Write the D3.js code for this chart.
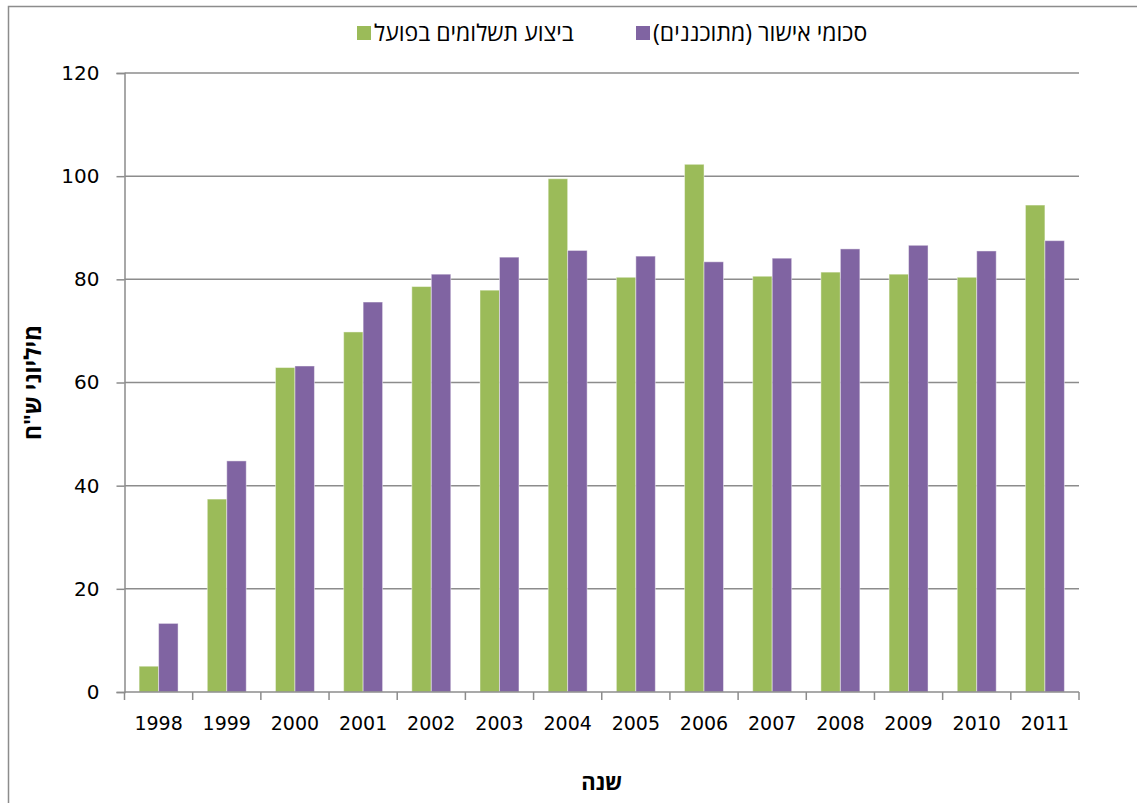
<!DOCTYPE html>
<html lang="he">
<head>
<meta charset="utf-8">
<script src="https://cdn.jsdelivr.net/npm/d3@7"></script>
<style>
  html, body { margin: 0; padding: 0; background: #fff; }
  svg { display: block; }
  text { font-family: "DejaVu Sans", "Liberation Sans", Arial, sans-serif; fill: #000; }
  .heb { font-family: "Open Sans", "DejaVu Sans", "Liberation Sans", sans-serif; }
</style>
</head>
<body>
<svg id="chart" width="1137" height="803"></svg>
<script>
// Years on the category axis
const years = ["1998","1999","2000","2001","2002","2003","2004","2005","2006","2007","2008","2009","2010","2011"];
// Actual payments (millions NIS)
const actualPayments = [5.0, 37.4, 62.9, 69.8, 78.6, 77.9, 99.5, 80.4, 102.3, 80.6, 81.4, 81.0, 80.4, 94.4];
// Approved (planned) amounts (millions NIS)
const plannedApprovals = [13.3, 44.8, 63.2, 75.6, 81.0, 84.3, 85.6, 84.5, 83.4, 84.1, 85.9, 86.6, 85.5, 87.5];
// Value-axis ticks
const yTicks = [0, 20, 40, 60, 80, 100, 120];
// Series names
const seriesNames = ["ביצוע תשלומים בפועל", "סכומי אישור (מתוכננים)"];
const seriesColors = ["#9BBB59", "#8064A2"];

const svg = d3.select("#chart");
const W = 1137, H = 803;
const plot = { left: 124.5, right: 1079, top: 73, bottom: 692 };

// Outer chart frame
svg.append("rect")
  .attr("x", 8.5).attr("y", 6.5)
  .attr("width", W + 20).attr("height", H + 20)
  .attr("fill", "none").attr("stroke", "#8c8c8c").attr("stroke-width", 1.5);

const x0 = d3.scaleBand().domain(years).range([plot.left, plot.right]).paddingInner(0).paddingOuter(0);
const x1 = d3.scaleBand().domain([0, 1]).range([0, x0.bandwidth()]).paddingInner(0).paddingOuter(0.75);
const y = d3.scaleLinear().domain([0, 120]).range([plot.bottom, plot.top]);

// Horizontal gridlines
svg.append("g")
  .selectAll("line")
  .data(yTicks.filter(t => t > 0))
  .join("line")
  .attr("x1", plot.left).attr("x2", plot.right)
  .attr("y1", d => y(d)).attr("y2", d => y(d))
  .attr("stroke", "#8c8c8c").attr("stroke-width", 1.5);

// Bars
const rows = years.map((yr, i) => ({ yr, vals: [actualPayments[i], plannedApprovals[i]] }));
const groups = svg.append("g").selectAll("g")
  .data(rows).join("g")
  .attr("transform", d => `translate(${x0(d.yr)},0)`);
groups.selectAll("rect")
  .data(d => d.vals.map((v, k) => ({ v, k })))
  .join("rect")
  .attr("x", d => x1(d.k))
  .attr("width", x1.bandwidth())
  .attr("y", d => y(d.v))
  .attr("height", d => y(0) - y(d.v))
  .attr("fill", d => seriesColors[d.k])
  .attr("stroke", "#ffffff").attr("stroke-opacity", 0.45).attr("stroke-width", 1);

// Y axis
const yAxis = d3.axisLeft(y).tickValues(yTicks).tickSize(8).tickPadding(17).tickFormat(d3.format("d"));
const gy = svg.append("g").attr("transform", `translate(${plot.left},0)`).call(yAxis);
gy.select(".domain").attr("stroke", "#8c8c8c").attr("stroke-width", 1.5);
gy.selectAll(".tick line").attr("stroke", "#8c8c8c").attr("stroke-width", 1.5);
gy.selectAll(".tick text").attr("font-size", 20).attr("font-family", "DejaVu Sans, sans-serif");

// X axis with ticks at category boundaries
const gx = svg.append("g").attr("transform", `translate(0,${plot.bottom})`);
gx.append("line").attr("x1", plot.left).attr("x2", plot.right).attr("y1", 0).attr("y2", 0)
  .attr("stroke", "#8c8c8c").attr("stroke-width", 1.5);
const boundaries = years.map(yr => x0(yr)).concat([plot.right]);
gx.selectAll("line.tk").data(boundaries).join("line").attr("class", "tk")
  .attr("x1", d => d).attr("x2", d => d).attr("y1", 0).attr("y2", 8)
  .attr("stroke", "#8c8c8c").attr("stroke-width", 1.5);
gx.selectAll("text").data(years).join("text")
  .attr("x", d => x0(d) + x0.bandwidth() / 2)
  .attr("y", 38)
  .attr("text-anchor", "middle")
  .attr("font-size", 19)
  .text(d => d);

// Axis titles
svg.append("text").attr("class", "heb")
  .attr("transform", `translate(41,${(plot.top + plot.bottom) / 2}) rotate(-90)`)
  .attr("text-anchor", "middle").attr("font-size", 23).attr("font-weight", "bold")
  .attr("direction", "rtl")
  .text("מיליוני ש\"ח");
svg.append("text").attr("class", "heb")
  .attr("x", (plot.left + plot.right) / 2).attr("y", 790)
  .attr("text-anchor", "middle").attr("font-size", 22).attr("font-weight", "bold")
  .text("שנה");

// Legend
const legendItems = [
  { name: seriesNames[0], color: seriesColors[0], sx: 357, tx: 374 },
  { name: seriesNames[1], color: seriesColors[1], sx: 636, tx: 653 }
];
const lg = svg.append("g");
legendItems.forEach(it => {
  lg.append("rect").attr("x", it.sx).attr("y", 26).attr("width", 14).attr("height", 14).attr("fill", it.color);
  lg.append("text").attr("class", "heb").attr("x", it.tx).attr("y", 41).attr("font-size", 23)
    .attr("text-anchor", "start").attr("direction", "ltr").attr("unicode-bidi", "plaintext")
    .text(it.name);
});
</script>
</body>
</html>
